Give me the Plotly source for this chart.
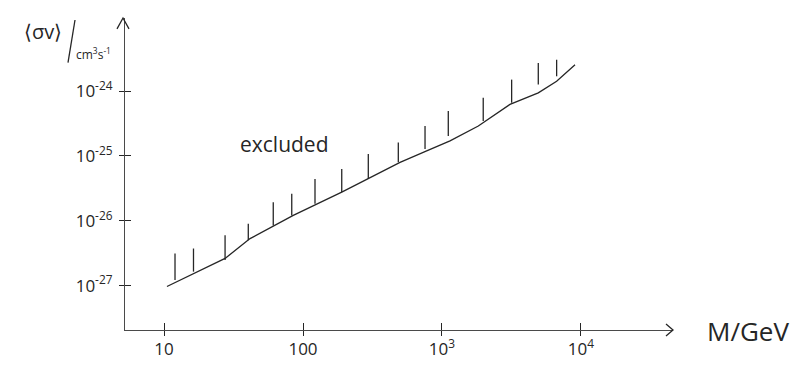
import numpy as np
import plotly.graph_objects as go

# ---- data ----
mass_gev = [10.5, 27.5, 41.6, 85.1, 190, 295, 499, 776, 1142, 1825, 3085, 4930, 6680, 9060]
sigma_v = [9.66e-28, 2.62e-27, 5.31e-27, 1.21e-26, 2.77e-26, 4.43e-26, 7.98e-26,
           1.20e-25, 1.71e-25, 2.90e-25, 6.25e-25, 9.44e-25, 1.42e-24, 2.57e-24]

hatch_mass = [12.0, 16.3, 27.5, 40.4, 61.1, 83.0, 122, 190, 295, 485, 755, 1110, 1980, 3170, 4930, 6680]
hatch_low = [1.22e-27, 1.64e-27, 2.47e-27, 5.00e-27, 8.49e-27, 1.21e-26, 1.83e-26, 2.77e-26,
             4.43e-26, 7.98e-26, 1.28e-25, 2.04e-25, 3.47e-25, 6.64e-25, 1.27e-24, 1.70e-24]
hatch_high = [3.13e-27, 3.73e-27, 5.97e-27, 9.03e-27, 1.94e-26, 2.61e-26, 4.43e-26, 6.30e-26,
              1.07e-25, 1.62e-25, 2.90e-25, 4.93e-25, 7.92e-25, 1.51e-24, 2.73e-24, 3.06e-24]

x_tickvals = [10, 100, 1000, 10000]
x_ticktext = ["10", "100", "10<sup>3</sup>", "10<sup>4</sup>"]
y_tickvals = [1e-24, 1e-25, 1e-26, 1e-27]
y_ticktext = ["10<sup>-24</sup>", "10<sup>-25</sup>", "10<sup>-26</sup>", "10<sup>-27</sup>"]

x_label = "M/GeV"
y_label_top = "⟨σv⟩"
y_label_unit = "cm<sup>3</sup>s<sup>-1</sup>"
region_label = "excluded"

# ---- layout constants ----
X_RANGE = [0.7194, 4.662]
Y_RANGE = [-27.686, -22.87]
INK = "#262626"
AXIS = "#4a4a4a"
FONT = "Open Sans"
W, H = 803, 372
ML, MR, MT, MB = 125, 130, 18, 40
PW, PH = W - ML - MR, H - MT - MB


def px_to_paper(px, py):
    return (px - ML) / PW, (H - MB - py) / PH


fig = go.Figure()

# boundary line
fig.add_trace(go.Scatter(x=mass_gev, y=sigma_v, mode="lines",
                         line=dict(color=INK, width=1.3), hoverinfo="skip"))

# hatching strokes
hx, hy = [], []
for m, lo, hi in zip(hatch_mass, hatch_low, hatch_high):
    hx += [m, m, None]
    hy += [lo, hi, None]
fig.add_trace(go.Scatter(x=hx, y=hy, mode="lines",
                         line=dict(color=INK, width=1.3), hoverinfo="skip"))

tickfont = dict(family=FONT, size=17, color=INK)

# main axes: line, labels, inner half of the crossing ticks
fig.update_layout(
    xaxis=dict(type="log", range=X_RANGE, tickvals=x_tickvals, ticktext=x_ticktext,
               showgrid=False, zeroline=False, showline=True, linecolor=AXIS, linewidth=1.1,
               ticks="inside", ticklen=7, tickwidth=1.2, tickcolor=INK,
               ticklabelstandoff=4, tickfont=tickfont),
    yaxis=dict(type="log", range=Y_RANGE, tickvals=y_tickvals, ticktext=y_ticktext,
               showgrid=False, zeroline=False, showline=True, linecolor=AXIS, linewidth=1.1,
               ticks="inside", ticklen=6, tickwidth=1.2, tickcolor=INK,
               ticklabelstandoff=8, tickfont=tickfont),
    # overlay axes: outer half of the crossing ticks
    xaxis2=dict(type="log", range=X_RANGE, tickvals=x_tickvals, overlaying="x",
                side="bottom", anchor="y", showticklabels=False, showgrid=False,
                zeroline=False, showline=False,
                ticks="outside", ticklen=5, tickwidth=1.2, tickcolor=INK),
    yaxis2=dict(type="log", range=Y_RANGE, tickvals=y_tickvals, overlaying="y",
                side="left", anchor="x", showticklabels=False, showgrid=False,
                zeroline=False, showline=False,
                ticks="outside", ticklen=5, tickwidth=1.2, tickcolor=INK),
)
# an invisible trace so the overlay axes are drawn
fig.add_trace(go.Scatter(x=[x_tickvals[0]], y=[y_tickvals[0]], xaxis="x2", yaxis="y2",
                         mode="markers", marker=dict(opacity=0), hoverinfo="skip"))

shapes = []
# arrow heads (open V)
tx, ty = px_to_paper(ML - 2, MT)
ax1, ay1 = px_to_paper(ML - 8, MT + 11)
ax2, ay2 = px_to_paper(ML + 4, MT + 11)
shapes.append(dict(type="path", xref="paper", yref="paper",
                   path=f"M {ax1} {ay1} L {tx} {ty} L {ax2} {ay2}",
                   line=dict(color=INK, width=1.3)))
tx, ty = px_to_paper(W - MR, H - MB)
ax1, ay1 = px_to_paper(W - MR - 7, H - MB - 6)
ax2, ay2 = px_to_paper(W - MR - 7, H - MB + 6)
shapes.append(dict(type="path", xref="paper", yref="paper",
                   path=f"M {ax1} {ay1} L {tx} {ty} L {ax2} {ay2}",
                   line=dict(color=INK, width=1.3)))
# slash of the y unit label
s1x, s1y = px_to_paper(75, 20)
s2x, s2y = px_to_paper(68, 63)
shapes.append(dict(type="line", xref="paper", yref="paper",
                   x0=s1x, y0=s1y, x1=s2x, y1=s2y,
                   line=dict(color=INK, width=1.3)))


def label(text, px, py, size):
    x, y = px_to_paper(px, py)
    return dict(text=text, x=x, y=y, xref="paper", yref="paper",
                xanchor="center", yanchor="middle", showarrow=False,
                font=dict(family=FONT, size=size, color=INK))


annotations = [
    label(y_label_top, 43, 32, 20),
    label(y_label_unit, 93, 54, 12),
    label(x_label, 748, 333, 26),
    label(region_label, 284, 145, 21),
]

fig.update_layout(width=W, height=H, autosize=False,
                  margin=dict(l=ML, r=MR, t=MT, b=MB),
                  paper_bgcolor="white", plot_bgcolor="white",
                  showlegend=False, shapes=shapes, annotations=annotations)

fig.write_html("out.html")
